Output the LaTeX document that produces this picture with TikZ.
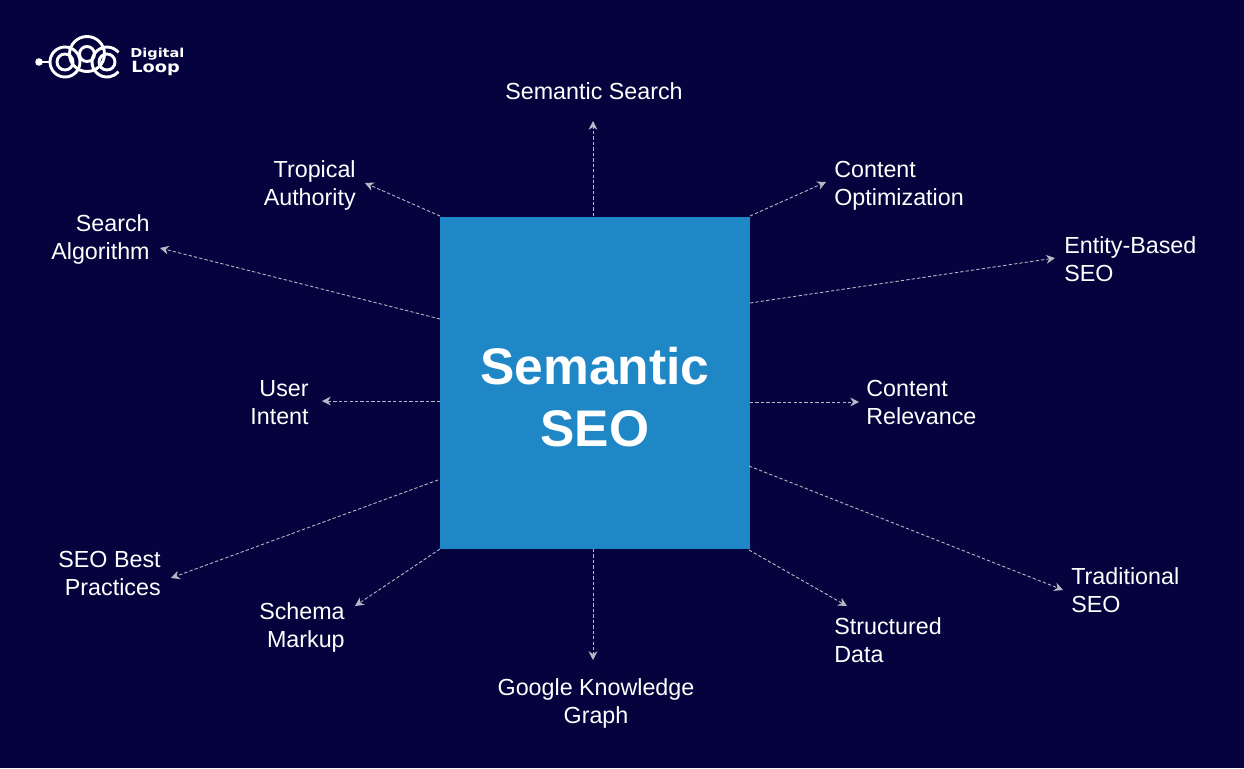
\documentclass[tikz,border=0pt]{standalone}
\usepackage{fontspec}
\setmainfont{Liberation Sans}
\newfontfamily\logofont{DejaVu Sans}
\definecolor{navybg}{HTML}{04033D}
\definecolor{boxblue}{HTML}{2087C6}
\definecolor{linkgrey}{HTML}{B9B9C6}
\usetikzlibrary{arrows.meta}
\tikzset{
lab/.style={text=white,inner sep=0pt,font=\fontsize{13.25}{15.95}\selectfont},
labl/.style={lab,anchor=west,align=left},
labr/.style={lab,anchor=east,align=right},
labc/.style={lab,anchor=center,align=center},
link/.style={draw=linkgrey,line width=.5pt,dash pattern=on 1.9pt off 1.2pt,-{Stealth[length=5pt,width=5pt]}},
ring/.style={draw=white,line width=1.65pt}
}
\begin{document}
\begin{tikzpicture}[x=.02cm,y=-.02cm]
\useasboundingbox[fill=navybg](0,0)rectangle(1244,768);
\node (core) at (595,383) [fill=boxblue,inner sep=0pt,minimum width=6.2cm,minimum height=6.64cm] {};
\node (title) at (595,397) [text=white,inner sep=0pt,align=center,font=\fontsize{29.3}{35}\selectfont\bfseries] {Semantic\\SEO};
% labels
\node (search) at (594,91) [labc] {Semantic Search};
\node (tropical) at (356,185.5) [labr] {Tropical\\Authority};
\node (algorithm) at (150,239.5) [labr] {Search\\Algorithm};
\node (intent) at (309,402.5) [labr] {User\\Intent};
\node (practices) at (161,573.5) [labr] {SEO Best\\Practices};
\node (schema) at (345,627.5) [labr] {Schema\\Markup};
\node (graph) at (596,703.5) [labc] {Google Knowledge\\Graph};
\node (structured) at (834,640) [labl] {Structured\\Data};
\node (traditional) at (1071,590) [labl] {Traditional\\SEO};
\node (relevance) at (866,402.5) [labl] {Content\\Relevance};
\node (entity) at (1064,259) [labl] {Entity-Based\\SEO};
\node (optimization) at (834,185.5) [labl] {Content\\Optimization};
% arrow ends
\coordinate (s1) at (593,216); \coordinate (e1) at (593,121);
\coordinate (s2) at (440,216); \coordinate (e2) at (365,183);
\coordinate (s3) at (440,319); \coordinate (e3) at (160,248);
\coordinate (s4) at (440,401); \coordinate (e4) at (322,401);
\coordinate (s5) at (438,480); \coordinate (e5) at (171,578);
\coordinate (s6) at (440,549); \coordinate (e6) at (355,606);
\coordinate (s7) at (593,549); \coordinate (e7) at (593,660);
\coordinate (s8) at (749,550); \coordinate (e8) at (847,606);
\coordinate (s9) at (749,466); \coordinate (e9) at (1063,590);
\coordinate (s10) at (750,402); \coordinate (e10) at (859,402);
\coordinate (s11) at (750,303); \coordinate (e11) at (1055,258);
\coordinate (s12) at (750,216); \coordinate (e12) at (826,182);
\draw[link](s1)--(e1);
\draw[link](s2)--(e2);
\draw[link](s3)--(e3);
\draw[link](s4)--(e4);
\draw[link](s5)--(e5);
\draw[link](s6)--(e6);
\draw[link](s7)--(e7);
\draw[link](s8)--(e8);
\draw[link](s9)--(e9);
\draw[link](s10)--(e10);
\draw[link](s11)--(e11);
\draw[link](s12)--(e12);
% logo
\draw[ring](65,62)circle(8);
\draw[ring](65,62)circle(15);
\draw[ring](87,54)circle(7.5);
\draw[ring](87,54)circle(17.5);
\draw[ring](107,62)circle(8);
\draw[ring](118.5,52.4)arc[start angle=-40,end angle=-320,radius=15];
\draw[ring](39,62)--(50,62);
\fill[white](39,62)circle(3.8);
\node (digital) at (130,54) [anchor=west,inner sep=0pt,text=white,font=\logofont\bfseries\fontsize{7}{8}\selectfont] {\scalebox{1.18}[1]{Digital}};
\node (loop) at (131,68) [anchor=west,inner sep=0pt,text=white,font=\logofont\bfseries\fontsize{8.8}{10}\selectfont] {\scalebox{1.15}[1]{Loop}};
\end{tikzpicture}
\end{document}
